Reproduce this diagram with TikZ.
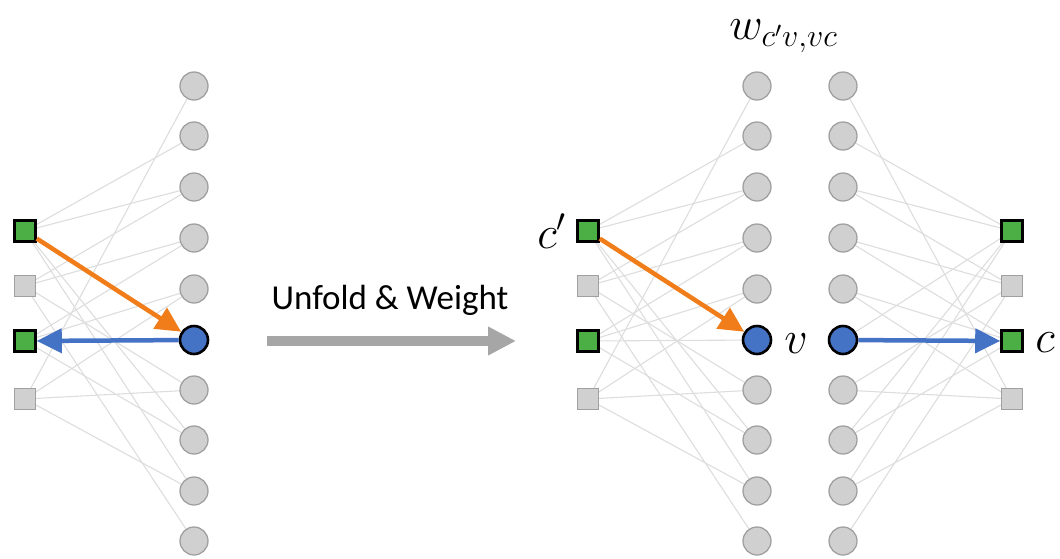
\documentclass[tikz,border=0pt]{standalone}
\usepackage{fontspec}
\newfontfamily\labelfont{Carlito}
\usetikzlibrary{arrows.meta}
\definecolor{nodegray}{HTML}{D0D0D0}
\definecolor{nodeedge}{HTML}{A0A0A0}
\definecolor{linkgray}{HTML}{DDDDDD}
\definecolor{checkgreen}{HTML}{4CAF45}
\definecolor{varblue}{HTML}{4472C4}
\definecolor{msgorange}{HTML}{F07D1A}
\definecolor{bigarrow}{HTML}{A6A6A6}
\tikzset{
  var/.style={circle, minimum size=28pt, inner sep=0pt, fill=nodegray, draw=nodeedge, line width=1.3pt},
  varon/.style={var, fill=varblue, draw=black, line width=2.6pt},
  chk/.style={rectangle, minimum size=21pt, inner sep=0pt, fill=nodegray, draw=nodeedge, line width=1.3pt},
  chkon/.style={chk, fill=checkgreen, draw=black, line width=2.6pt},
  link/.style={draw=linkgray, line width=1.1pt},
  msg/.style={line width=4.5pt, -{Triangle[length=25pt, width=24pt]}},
  lbl/.style={inner sep=0pt, font=\fontsize{24}{24}\selectfont, scale=1.85}
}
\begin{document}
\begin{tikzpicture}[x=1pt, y=-1pt]
\useasboundingbox (0,0) rectangle (1060,558);
% row positions of variable and check nodes
\def\vrows{{0,86,136,187,238,289,340,390,440,491,541}}
\def\crows{{0,231,286,341,399}}
% Tanner graph: check/variable pairs
\def\edgelist{1/2,1/3,1/6,1/8,1/9,2/3,2/4,2/7,2/10,3/4,3/5,3/6,3/8,4/1,4/5,4/7,4/9}
\foreach \i in {1,...,10} {
  \pgfmathsetmacro\yy{\vrows[\i]}
  \coordinate (LV\i) at (194,\yy);
  \coordinate (AV\i) at (757,\yy);
  \coordinate (BV\i) at (843,\yy);
}
\foreach \j in {1,...,4} {
  \pgfmathsetmacro\yy{\crows[\j]}
  \coordinate (LC\j) at (25,\yy);
  \coordinate (AC\j) at (588,\yy);
  \coordinate (BC\j) at (1012,\yy);
}
% edges: folded graph, first and second unfolded layers
\foreach \s/\v in \edgelist {
  \draw[link] (LC\s) -- (LV\v);
  \draw[link] (AC\s) -- (AV\v);
  \draw[link] (BC\s) -- (BV\v);
}
% variable nodes
\foreach \i in {1,...,10} {
  \ifnum\i=6
    \node[varon] (lv\i) at (LV\i) {};
    \node[varon] (av\i) at (AV\i) {};
    \node[varon] (bv\i) at (BV\i) {};
  \else
    \node[var] (lv\i) at (LV\i) {};
    \node[var] (av\i) at (AV\i) {};
    \node[var] (bv\i) at (BV\i) {};
  \fi
}
% check nodes
\foreach \j in {1,...,4} {
  \ifodd\j
    \node[chkon] (lc\j) at (LC\j) {};
    \node[chkon] (ac\j) at (AC\j) {};
    \node[chkon] (bc\j) at (BC\j) {};
  \else
    \node[chk] (lc\j) at (LC\j) {};
    \node[chk] (ac\j) at (AC\j) {};
    \node[chk] (bc\j) at (BC\j) {};
  \fi
}
% messages
\draw[msg, msgorange] (lc1) -- (lv6);
\draw[msg, varblue] (lv6) -- (lc3);
\draw[msg, msgorange] (ac1) -- (av6);
\draw[msg, varblue] (bv6) -- (bc3);
% unfolding arrow
\coordinate (ua) at (267,341);
\coordinate (ub) at (516,341);
\draw[bigarrow, line width=10pt, -{Triangle[length=28pt, width=27pt]}] (ua) -- (ub);
\node[inner sep=0pt, font=\labelfont\fontsize{35}{35}\selectfont] (ut) at (390,300) {Unfold \& Weight};
% labels
\node[lbl] (lcp) at (552,231) {$c'$};
\node[lbl] (lvv) at (796,344) {$v$};
\node[lbl] (lcc) at (1045,343) {$c$};
\node[lbl, anchor=west] (lw) at (729,36) {$w_{c'v,vc}$};
\end{tikzpicture}
\end{document}
